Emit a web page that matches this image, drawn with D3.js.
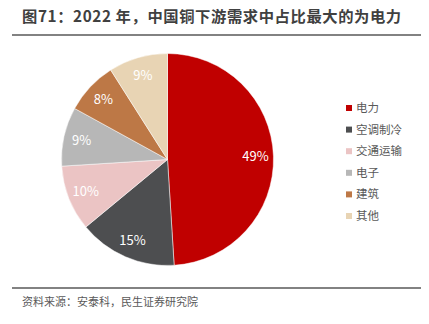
<!DOCTYPE html>
<html><head><meta charset="utf-8">
<script src="https://cdn.jsdelivr.net/npm/d3@7"></script>
<style>body{margin:0;background:#fff}</style>
</head><body><div id="c"></div>
<script>
const categories = ["电力","空调制冷","交通运输","电子","建筑","其他"];
const values = [49,15,10,9,8,9];
const labels = ["49%","15%","10%","9%","8%","9%"];
const colors = ["#C00000","#4D4E50","#EBC4C4","#B7B7B7","#BD7846","#E8D4B4"];
const titleText = "图71：2022 年，中国铜下游需求中占比最大的为电力";
const sourceText = "资料来源：安泰科，民生证券研究院";

const W=429,H=324;
const svg=d3.select("#c").append("svg").attr("width",W).attr("height",H);
const font="'Noto Sans CJK SC','Noto Sans',sans-serif";

svg.append("text").attr("x",22).attr("y",22).attr("font-family",font)
  .attr("font-size",15.3).attr("letter-spacing",0.6).attr("font-weight","bold").attr("fill","#404040").text(titleText);
svg.append("line").attr("x1",12).attr("x2",421).attr("y1",35).attr("y2",35)
  .attr("stroke","#595959").attr("stroke-width",1.5);
svg.append("line").attr("x1",12).attr("x2",421).attr("y1",288).attr("y2",288)
  .attr("stroke","#595959").attr("stroke-width",1.5);
svg.append("text").attr("x",22).attr("y",306).attr("font-family",font)
  .attr("font-size",11).attr("fill","#595959").text(sourceText);

const cx=167.5, cy=159.5, R=106;
const pie=d3.pie().sort(null).value(d=>d)(values);
const arc=d3.arc().innerRadius(0).outerRadius(R);
const larc=d3.arc().innerRadius(88).outerRadius(88);
const g=svg.append("g").attr("transform",`translate(${cx},${cy})`);
g.selectAll("path").data(pie).enter().append("path").attr("d",arc)
  .attr("fill",(d,i)=>colors[i]).attr("stroke","#fff").attr("stroke-width",0.5);
g.selectAll("text").data(pie).enter().append("text")
  .attr("transform",d=>`translate(${larc.centroid(d)})`)
  .attr("text-anchor","middle").attr("dy","0.35em")
  .attr("font-family",font).attr("font-size",13).attr("fill","#fff")
  .text((d,i)=>labels[i]);

const y=d3.scalePoint().domain(categories).range([108,216]);
const lg=svg.append("g");
categories.forEach((c,i)=>{
  lg.append("rect").attr("x",346).attr("y",y(c)-3).attr("width",6).attr("height",6).attr("fill",colors[i]);
  lg.append("text").attr("x",356).attr("y",y(c)).attr("dy","0.35em")
    .attr("font-family",font).attr("font-size",11.5).attr("fill","#595959").text(c);
});
</script></body></html>
